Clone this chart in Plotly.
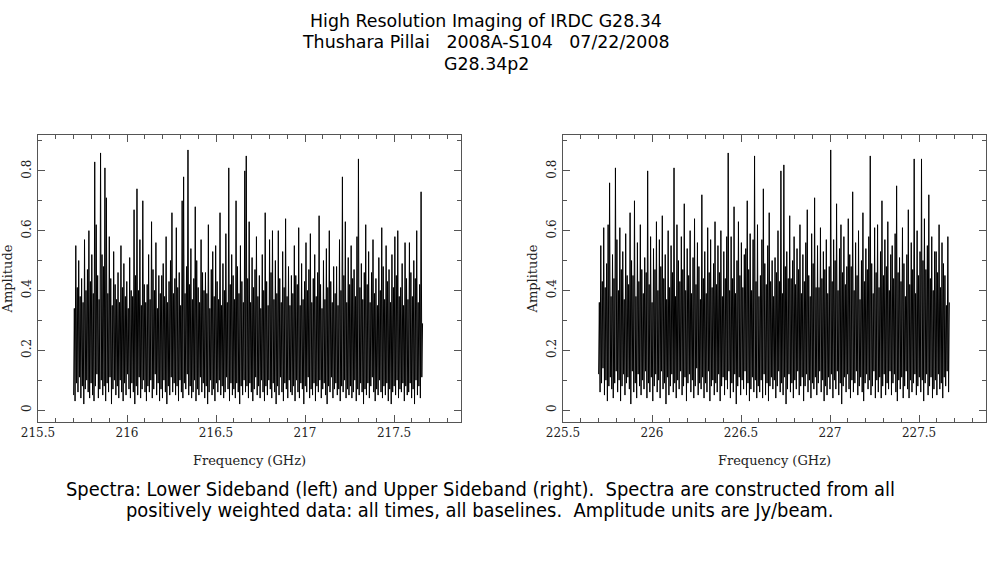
import numpy as np
import plotly.graph_objects as go

# channel range of each sideband (GHz)
lsb_start, lsb_stop = 215.70, 217.66
usb_start, usb_stop = 225.70, 227.67

# amplitude (Jy/beam)
lsb_amp = [
    0.05, 0.34, 0.03, 0.55, 0.09, 0.41, 0.06, 0.50, 0.11, 0.38, 0.04, 0.44, 0.08, 0.36, 0.02, 0.57, 0.07, 0.40, 0.10, 0.47,
    0.06, 0.60, 0.04, 0.43, 0.09, 0.52, 0.05, 0.39, 0.03, 0.83, 0.08, 0.62, 0.12, 0.45, 0.04, 0.37, 0.07, 0.86, 0.10, 0.52,
    0.05, 0.48, 0.08, 0.81, 0.03, 0.71, 0.09, 0.39, 0.06, 0.58, 0.11, 0.44, 0.02, 0.35, 0.07, 0.53, 0.10, 0.42, 0.05, 0.37,
    0.08, 0.46, 0.04, 0.36, 0.10, 0.55, 0.06, 0.41, 0.03, 0.49, 0.09, 0.38, 0.05, 0.43, 0.12, 0.34, 0.07, 0.51, 0.04, 0.40,
    0.09, 0.38, 0.06, 0.67, 0.02, 0.45, 0.08, 0.74, 0.05, 0.40, 0.11, 0.57, 0.04, 0.35, 0.07, 0.70, 0.10, 0.42, 0.06, 0.36,
    0.03, 0.42, 0.08, 0.52, 0.06, 0.37, 0.10, 0.63, 0.04, 0.47, 0.07, 0.40, 0.12, 0.56, 0.05, 0.34, 0.09, 0.45, 0.03, 0.39,
    0.07, 0.45, 0.04, 0.49, 0.10, 0.38, 0.06, 0.58, 0.02, 0.36, 0.08, 0.43, 0.05, 0.50, 0.11, 0.66, 0.06, 0.39, 0.09, 0.44,
    0.05, 0.61, 0.08, 0.41, 0.03, 0.46, 0.10, 0.35, 0.06, 0.70, 0.04, 0.78, 0.09, 0.39, 0.07, 0.48, 0.12, 0.87, 0.05, 0.42,
    0.08, 0.54, 0.04, 0.37, 0.06, 0.44, 0.10, 0.68, 0.03, 0.50, 0.07, 0.41, 0.05, 0.36, 0.11, 0.57, 0.06, 0.46, 0.09, 0.40,
    0.04, 0.46, 0.08, 0.39, 0.02, 0.62, 0.06, 0.34, 0.10, 0.47, 0.05, 0.53, 0.07, 0.38, 0.03, 0.55, 0.09, 0.43, 0.06, 0.37,
    0.10, 0.66, 0.05, 0.35, 0.08, 0.49, 0.04, 0.40, 0.06, 0.59, 0.11, 0.36, 0.07, 0.81, 0.03, 0.42, 0.09, 0.52, 0.05, 0.45,
    0.07, 0.37, 0.04, 0.70, 0.09, 0.48, 0.06, 0.39, 0.02, 0.55, 0.08, 0.43, 0.05, 0.36, 0.10, 0.80, 0.06, 0.85, 0.08, 0.44,
    0.04, 0.63, 0.09, 0.36, 0.06, 0.51, 0.03, 0.41, 0.07, 0.47, 0.11, 0.58, 0.05, 0.38, 0.08, 0.45, 0.04, 0.34, 0.10, 0.52,
    0.06, 0.40, 0.03, 0.66, 0.08, 0.43, 0.05, 0.35, 0.10, 0.57, 0.07, 0.46, 0.04, 0.60, 0.09, 0.37, 0.06, 0.50, 0.02, 0.39,
    0.08, 0.60, 0.05, 0.44, 0.11, 0.36, 0.06, 0.53, 0.03, 0.41, 0.09, 0.64, 0.07, 0.38, 0.04, 0.48, 0.10, 0.35, 0.06, 0.45,
    0.05, 0.39, 0.08, 0.55, 0.03, 0.45, 0.10, 0.42, 0.06, 0.61, 0.04, 0.35, 0.09, 0.49, 0.07, 0.37, 0.02, 0.43, 0.08, 0.56,
    0.06, 0.40, 0.11, 0.47, 0.04, 0.59, 0.07, 0.36, 0.05, 0.44, 0.09, 0.52, 0.03, 0.38, 0.08, 0.46, 0.06, 0.65, 0.10, 0.42,
    0.04, 0.34, 0.07, 0.50, 0.09, 0.37, 0.05, 0.54, 0.02, 0.41, 0.08, 0.60, 0.06, 0.43, 0.11, 0.36, 0.04, 0.48, 0.07, 0.39,
    0.09, 0.48, 0.05, 0.35, 0.07, 0.57, 0.03, 0.40, 0.08, 0.78, 0.06, 0.45, 0.10, 0.63, 0.04, 0.36, 0.07, 0.51, 0.05, 0.42,
    0.08, 0.55, 0.04, 0.44, 0.06, 0.47, 0.10, 0.38, 0.03, 0.58, 0.07, 0.84, 0.05, 0.41, 0.09, 0.49, 0.06, 0.37, 0.02, 0.46,
    0.07, 0.62, 0.05, 0.42, 0.09, 0.53, 0.04, 0.36, 0.08, 0.46, 0.11, 0.57, 0.06, 0.39, 0.03, 0.44, 0.07, 0.35, 0.05, 0.51,
    0.10, 0.40, 0.06, 0.61, 0.04, 0.48, 0.08, 0.37, 0.05, 0.55, 0.09, 0.43, 0.03, 0.47, 0.07, 0.36, 0.02, 0.52, 0.06, 0.41,
    0.08, 0.58, 0.05, 0.45, 0.10, 0.60, 0.04, 0.38, 0.07, 0.41, 0.06, 0.49, 0.09, 0.35, 0.03, 0.56, 0.08, 0.44, 0.05, 0.37,
    0.06, 0.56, 0.09, 0.46, 0.04, 0.38, 0.07, 0.50, 0.02, 0.44, 0.10, 0.60, 0.05, 0.36, 0.08, 0.42, 0.04, 0.73, 0.11, 0.29,
]

usb_amp = [
    0.12, 0.36, 0.06, 0.55, 0.09, 0.43, 0.14, 0.61, 0.05, 0.41, 0.10, 0.49, 0.03, 0.62, 0.08, 0.76, 0.11, 0.38, 0.07, 0.52,
    0.04, 0.44, 0.09, 0.81, 0.13, 0.57, 0.06, 0.40, 0.10, 0.61, 0.03, 0.47, 0.08, 0.53, 0.12, 0.37, 0.05, 0.59, 0.09, 0.45,
    0.11, 0.42, 0.07, 0.66, 0.02, 0.50, 0.13, 0.45, 0.06, 0.70, 0.09, 0.38, 0.04, 0.56, 0.12, 0.43, 0.08, 0.62, 0.05, 0.47,
    0.10, 0.39, 0.07, 0.51, 0.13, 0.46, 0.04, 0.80, 0.09, 0.42, 0.06, 0.58, 0.11, 0.36, 0.03, 0.54, 0.08, 0.47, 0.12, 0.63,
    0.06, 0.40, 0.10, 0.57, 0.04, 0.48, 0.13, 0.65, 0.07, 0.44, 0.09, 0.52, 0.02, 0.37, 0.11, 0.60, 0.05, 0.41, 0.08, 0.55,
    0.12, 0.46, 0.06, 0.81, 0.09, 0.38, 0.04, 0.62, 0.10, 0.50, 0.07, 0.43, 0.13, 0.58, 0.05, 0.47, 0.08, 0.69, 0.11, 0.40,
    0.03, 0.54, 0.09, 0.45, 0.12, 0.60, 0.06, 0.39, 0.10, 0.51, 0.04, 0.64, 0.08, 0.42, 0.14, 0.56, 0.05, 0.48, 0.09, 0.37,
    0.07, 0.72, 0.11, 0.44, 0.04, 0.53, 0.09, 0.39, 0.06, 0.61, 0.13, 0.46, 0.03, 0.57, 0.08, 0.41, 0.10, 0.49, 0.05, 0.63,
    0.09, 0.42, 0.06, 0.55, 0.12, 0.46, 0.03, 0.60, 0.08, 0.38, 0.11, 0.53, 0.05, 0.44, 0.10, 0.58, 0.07, 0.86, 0.13, 0.40,
    0.04, 0.58, 0.09, 0.44, 0.06, 0.68, 0.12, 0.39, 0.02, 0.50, 0.08, 0.63, 0.11, 0.45, 0.05, 0.56, 0.10, 0.41, 0.07, 0.52,
    0.13, 0.54, 0.05, 0.70, 0.09, 0.47, 0.03, 0.59, 0.07, 0.40, 0.11, 0.57, 0.06, 0.85, 0.10, 0.43, 0.04, 0.62, 0.08, 0.38,
    0.06, 0.45, 0.10, 0.57, 0.04, 0.74, 0.12, 0.49, 0.05, 0.42, 0.09, 0.55, 0.03, 0.66, 0.08, 0.43, 0.11, 0.50, 0.07, 0.38,
    0.10, 0.51, 0.04, 0.46, 0.08, 0.60, 0.13, 0.43, 0.06, 0.80, 0.09, 0.39, 0.05, 0.82, 0.11, 0.48, 0.02, 0.53, 0.07, 0.44,
    0.12, 0.65, 0.06, 0.44, 0.09, 0.50, 0.04, 0.58, 0.10, 0.42, 0.07, 0.54, 0.13, 0.47, 0.05, 0.62, 0.08, 0.39, 0.11, 0.52,
    0.03, 0.43, 0.08, 0.56, 0.12, 0.67, 0.06, 0.45, 0.10, 0.38, 0.04, 0.59, 0.09, 0.49, 0.07, 0.71, 0.11, 0.41, 0.05, 0.55,
    0.09, 0.41, 0.13, 0.61, 0.06, 0.44, 0.10, 0.53, 0.03, 0.47, 0.08, 0.57, 0.05, 0.39, 0.11, 0.48, 0.07, 0.87, 0.12, 0.43,
    0.04, 0.57, 0.10, 0.50, 0.07, 0.69, 0.13, 0.40, 0.05, 0.54, 0.09, 0.62, 0.02, 0.46, 0.08, 0.58, 0.11, 0.42, 0.06, 0.48,
    0.12, 0.64, 0.07, 0.52, 0.04, 0.48, 0.10, 0.73, 0.06, 0.40, 0.09, 0.56, 0.13, 0.45, 0.05, 0.60, 0.08, 0.37, 0.11, 0.50,
    0.06, 0.66, 0.03, 0.43, 0.09, 0.54, 0.12, 0.47, 0.07, 0.58, 0.10, 0.85, 0.05, 0.49, 0.08, 0.39, 0.13, 0.61, 0.04, 0.46,
    0.10, 0.62, 0.06, 0.41, 0.11, 0.53, 0.04, 0.70, 0.08, 0.45, 0.12, 0.57, 0.05, 0.48, 0.09, 0.63, 0.07, 0.40, 0.13, 0.52,
    0.05, 0.55, 0.09, 0.44, 0.12, 0.59, 0.06, 0.75, 0.03, 0.46, 0.10, 0.51, 0.07, 0.43, 0.11, 0.61, 0.04, 0.49, 0.08, 0.38,
    0.13, 0.52, 0.07, 0.67, 0.04, 0.42, 0.10, 0.56, 0.06, 0.47, 0.09, 0.84, 0.12, 0.39, 0.05, 0.60, 0.08, 0.45, 0.11, 0.53,
    0.06, 0.84, 0.10, 0.50, 0.03, 0.64, 0.09, 0.47, 0.12, 0.55, 0.05, 0.72, 0.08, 0.44, 0.11, 0.58, 0.04, 0.40, 0.07, 0.53,
    0.10, 0.53, 0.05, 0.46, 0.12, 0.62, 0.07, 0.41, 0.09, 0.56, 0.04, 0.49, 0.11, 0.45, 0.08, 0.35, 0.13, 0.58, 0.06, 0.36,
]

lsb_freq = np.linspace(lsb_start, lsb_stop, len(lsb_amp))
usb_freq = np.linspace(usb_start, usb_stop, len(usb_amp))

title_lines = [
    "High Resolution Imaging of IRDC G28.34",
    "Thushara Pillai   2008A-S104   07/22/2008",
    "G28.34p2",
]
caption_lines = [
    "Spectra: Lower Sideband (left) and Upper Sideband (right).  Spectra are constructed from all",
    "positively weighted data: all times, all baselines.  Amplitude units are Jy/beam.",
]

W, H = 987, 567


def px_x(p):
    return p / W


def px_y(p):
    return 1 - p / H


tick_font = dict(family="DejaVu Serif", size=12, color="#222")
title_font = dict(family="DejaVu Serif", size=13, color="#222")

fig = go.Figure()
fig.add_trace(go.Scatter(x=lsb_freq, y=lsb_amp, mode="lines",
                         line=dict(color="black", width=1.0), xaxis="x", yaxis="y"))
fig.add_trace(go.Scatter(x=usb_freq, y=usb_amp, mode="lines",
                         line=dict(color="black", width=1.0), xaxis="x2", yaxis="y2"))


def xaxis_style(lo, dom, anchor):
    return dict(range=[lo, lo + 2.376], domain=dom, anchor=anchor, automargin=False,
                dtick=0.5, tick0=lo, ticks="inside", ticklen=7, tickcolor="#555",
                minor=dict(dtick=0.1, ticks="inside", ticklen=4, tickcolor="#555"),
                showline=True, linecolor="#555", linewidth=1, mirror="allticks",
                showgrid=False, zeroline=False, tickfont=tick_font,
                title=dict(text="Frequency (GHz)", font=title_font, standoff=16))


def yaxis_style(dom, anchor):
    return dict(range=[-0.04, 0.92], domain=dom, anchor=anchor, automargin=False,
                dtick=0.2, tick0=0, ticks="inside", ticklen=7, tickcolor="#555",
                minor=dict(dtick=0.1, ticks="inside", ticklen=4, tickcolor="#555"),
                showline=True, linecolor="#555", linewidth=1, mirror="allticks",
                showgrid=False, zeroline=False, tickfont=tick_font, tickangle=-90,
                ticklabelstandoff=1,
                title=dict(text="Amplitude", font=title_font, standoff=4))


ydom = [px_y(422), px_y(135)]
fig.update_layout(
    width=W, height=H,
    margin=dict(l=0, r=0, t=0, b=0),
    paper_bgcolor="white", plot_bgcolor="white",
    showlegend=False,
    xaxis=xaxis_style(215.5, [px_x(38), px_x(461)], "y"),
    yaxis=yaxis_style(ydom, "x"),
    xaxis2=xaxis_style(225.5, [px_x(563), px_x(986)], "y2"),
    yaxis2=yaxis_style(ydom, "x2"),
)

for i, txt in enumerate(title_lines):
    fig.add_annotation(text=txt, xref="paper", yref="paper", x=px_x(486), y=px_y(21 + 21.5 * i),
                       showarrow=False, xanchor="center", yanchor="middle",
                       font=dict(family="DejaVu Sans", size=17.4, color="black"))

for i, txt in enumerate(caption_lines):
    fig.add_annotation(text=txt, xref="paper", yref="paper", x=px_x(480), y=px_y(489 + 21 * i),
                       showarrow=False, xanchor="center", yanchor="middle",
                       font=dict(family="DejaVu Sans Condensed", size=19.9, color="black"))

# drop the browser's default 8px body margin so the figure sits at the window corner
fig.write_html("out.html", config={"displayModeBar": False},
               post_script="document.body.style.margin = '0';")
